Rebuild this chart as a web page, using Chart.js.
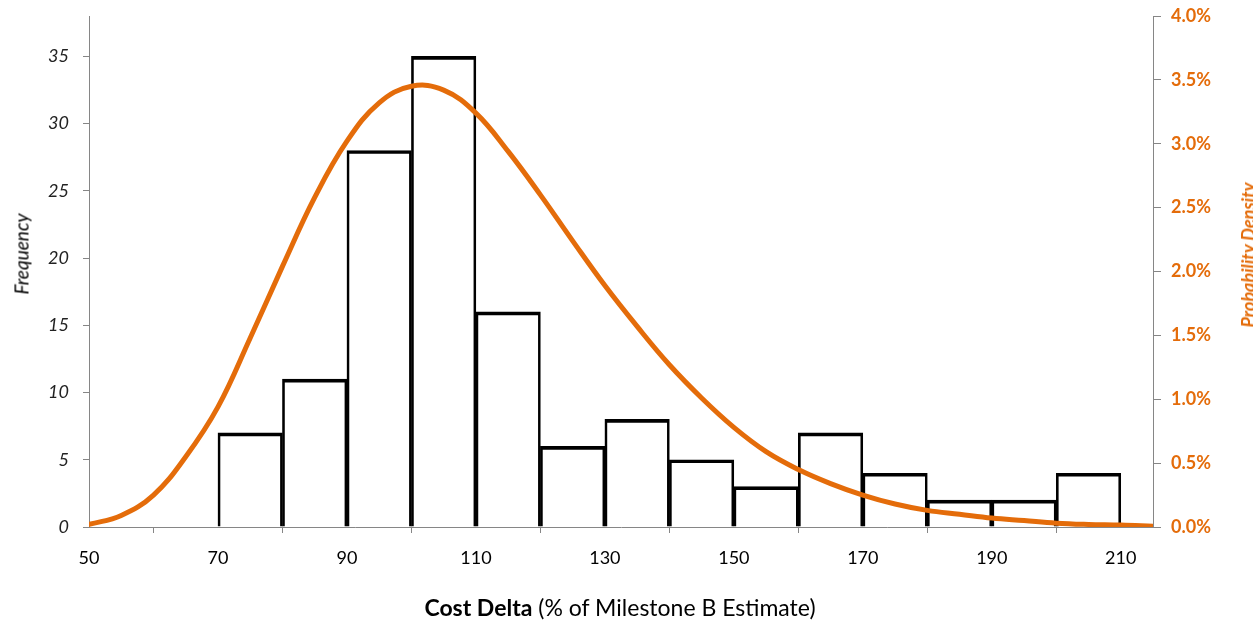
<!DOCTYPE html>
<html><head><meta charset="utf-8">
<script src="https://cdn.jsdelivr.net/npm/chart.js@4/dist/chart.umd.min.js"></script>
<style>
html,body{margin:0;padding:0;background:#fff;overflow:hidden;}
#wrap{position:relative;width:1253px;height:623px;overflow:hidden;}
canvas{position:absolute;left:0;top:0;}
.t{position:absolute;white-space:nowrap;line-height:1;font-family:Lato, "Open Sans", sans-serif;}
</style></head><body>
<div id="wrap">
<canvas id="c" width="1253" height="623"></canvas>
<div class="t" style="left:21px;top:254px;transform:translate(-50%,-50%) rotate(-90deg);font-style:italic;font-size:19px;color:#000">Frequency</div>
<div class="t" style="left:1248px;top:255px;transform:translate(-50%,-50%) rotate(-90deg);font-style:italic;font-weight:bold;font-size:18px;color:#E46C0A">Probability Density</div>
<div class="t" style="left:620px;top:607px;transform:translate(-50%,-50%);font-size:23px;color:#000"><b>Cost Delta</b> (% of Milestone B Estimate)</div>
</div>
<script>
// Histogram bins (lower edge of each 10-point bin) and counts
const binStart = [70, 80, 90, 100, 110, 120, 130, 140, 150, 160, 170, 180, 190, 200];
const frequency = [7, 11, 28, 35, 16, 6, 8, 5, 3, 7, 4, 2, 2, 4];
const binWidth = 10;
// Fitted probability density curve (percent)
const curveX = [50, 55, 60, 65, 70, 75, 80, 85, 90, 95, 100, 105, 110, 115, 120, 125, 130, 135, 140, 145, 150, 155, 160, 165, 170, 175, 180, 185, 190, 195, 200, 205, 210, 215];
const density = [0.02, 0.09, 0.25, 0.55, 0.94, 1.48, 2.04, 2.58, 3.02, 3.32, 3.45, 3.42, 3.24, 2.94, 2.60, 2.24, 1.89, 1.57, 1.27, 1.01, 0.78, 0.59, 0.45, 0.34, 0.25, 0.18, 0.13, 0.10, 0.07, 0.05, 0.03, 0.02, 0.015, 0.005];
// Tick labels
const xTicks = [50, 70, 90, 110, 130, 150, 170, 190, 210];
const freqTicks = [0, 5, 10, 15, 20, 25, 30, 35];
const densityTicks = [0, 0.5, 1.0, 1.5, 2.0, 2.5, 3.0, 3.5, 4.0];

const FONT = 'Lato, "Open Sans", sans-serif';
const AXIS = '#868686';
const ORANGE = '#E46C0A';

const barData = binStart.map((s, i) => ({ x: s + binWidth / 2, y: frequency[i] }));
const curveData = curveX.map((x, i) => ({ x: x, y: density[i] }));

function noPad(s) { s.paddingTop = 0; s.paddingBottom = 0; s.paddingLeft = 0; s.paddingRight = 0; }

new Chart(document.getElementById('c'), {
  type: 'bar',
  data: {
    datasets: [
      {
        type: 'line',
        data: curveData,
        yAxisID: 'y2',
        borderColor: ORANGE,
        borderWidth: 5,
        pointRadius: 0,
        tension: 0.4,
        fill: false,
        borderCapStyle: 'round'
      },
      {
        type: 'bar',
        data: barData,
        yAxisID: 'y',
        backgroundColor: 'rgba(0,0,0,0)',
        borderColor: '#000',
        borderWidth: { top: 3, left: 2, right: 2, bottom: 0 },
        borderSkipped: 'bottom',
        barPercentage: 1,
        categoryPercentage: 1
      }
    ]
  },
  options: {
    responsive: false,
    animation: false,
    devicePixelRatio: 1,
    layout: { padding: { top: 16, left: 0, right: 0, bottom: 0 } },
    plugins: { legend: { display: false }, tooltip: { enabled: false } },
    scales: {
      x: {
        type: 'linear',
        min: 50, max: 215,
        offset: false,
        afterFit: s => { s.height = 96; noPad(s); },
        afterBuildTicks: s => { s.ticks = xTicks.map(v => ({ value: v })); },
        grid: { drawOnChartArea: false, drawTicks: true, tickLength: 6, color: AXIS },
        border: { color: AXIS, width: 1 },
        ticks: { font: { family: FONT, size: 18 }, color: '#000', padding: 14, maxRotation: 0, autoSkip: false }
      },
      y: {
        position: 'left',
        min: 0, max: 38,
        afterFit: s => { s.width = 89; noPad(s); },
        afterBuildTicks: s => { s.ticks = freqTicks.map(v => ({ value: v })); },
        grid: { drawOnChartArea: false, drawTicks: true, tickLength: 6, color: AXIS },
        border: { color: AXIS, width: 1 },
        ticks: { font: { family: FONT, size: 18, style: 'italic' }, color: '#222', padding: 14 }
      },
      y2: {
        position: 'right',
        min: 0, max: 4,
        afterFit: s => { s.width = 100; noPad(s); },
        afterBuildTicks: s => { s.ticks = densityTicks.map(v => ({ value: v })); },
        grid: { drawOnChartArea: false, drawTicks: true, tickLength: 8, color: AXIS },
        border: { color: AXIS, width: 1 },
        ticks: { font: { family: FONT, size: 18, weight: 'bold' }, color: ORANGE, padding: 10,
                 callback: v => Number(v).toFixed(1) + '%' }
      }
    }
  }
});
</script>
</body></html>
